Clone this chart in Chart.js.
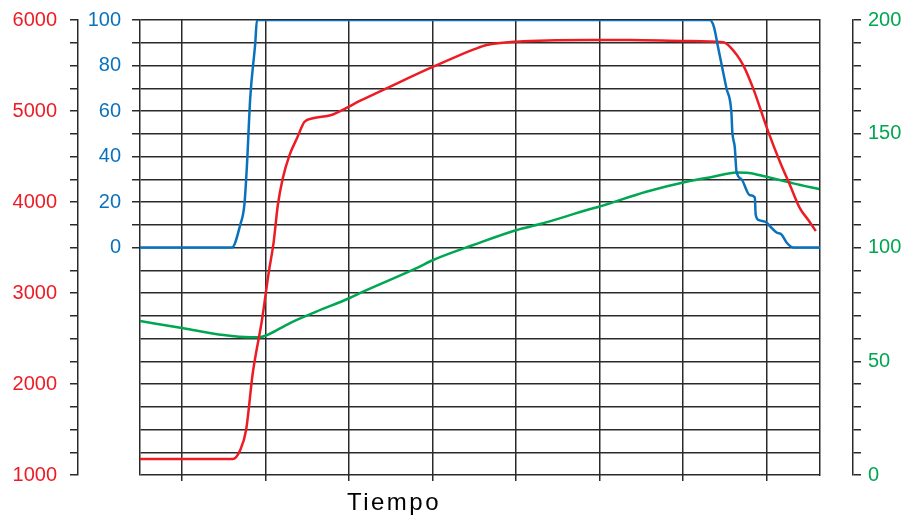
<!DOCTYPE html>
<html lang="es">
<head>
<meta charset="UTF-8">
<title>Tiempo</title>
<script src="https://cdn.jsdelivr.net/npm/chart.js@4.4.0/dist/chart.umd.min.js"></script>
<style>
  html, body { margin: 0; padding: 0; background: #fff; }
</style>
</head>
<body>
<canvas id="chart" width="906" height="515"></canvas>
<script>
// time axis (arbitrary units, grid every 10 starting at 5)
const timeTicks = [5, 15, 25, 35, 45, 55, 65, 75];

// blue series, 0-100 axis
const blueTime = [0, 11.0, 12.0, 12.5, 12.8, 13.2, 13.8, 14.0, 68.2, 68.7, 69.2, 70.2, 70.8, 70.9, 71.2, 71.4, 72.0, 73.0, 73.6, 73.7, 74.1, 75.0, 75.4, 76.2, 76.8, 77.4, 78.2, 81.4];
const blueValues = [0, 0, 10, 19, 36, 66, 90, 100, 100, 97, 88, 70, 59, 51, 44, 33.5, 30, 23, 22, 14.5, 12, 11, 9.4, 6.6, 5.7, 2.2, 0, 0];

// red series, 1000-6000 axis
const redTime = [0, 11.1, 12.0, 12.7, 13.5, 14.6, 15.4, 16.0, 16.5, 17.1, 17.9, 18.8, 19.7, 20.7, 22.9, 24.2, 26.3, 29.5, 35.1, 40.3, 41.5, 45.1, 53.8, 58.6, 65.4, 69.8, 70.6, 72.2, 73.4, 75.2, 76.6, 77.8, 79.0, 80.0, 80.9];
const redValues = [1175, 1175, 1275, 1494, 2121, 2703, 3220, 3560, 3967, 4264, 4516, 4703, 4882, 4920, 4956, 5010, 5110, 5249, 5487, 5689, 5725, 5762, 5780, 5780, 5769, 5755, 5707, 5505, 5249, 4773, 4443, 4187, 3930, 3802, 3681];

// green series, 0-200 axis
const greenTime = [0, 5.2, 10.0, 13.2, 14.2, 15.2, 17.9, 21.1, 25.1, 26.3, 33.1, 35.1, 39.9, 45.1, 47.9, 53.8, 55.0, 60.6, 65.4, 68.6, 71.4, 72.6, 75.0, 78.2, 81.3];
const greenValues = [67.7, 64.5, 61.5, 60.5, 60.5, 61.5, 66.7, 71.8, 77.8, 79.9, 90.9, 94.5, 101.1, 107.7, 110.3, 116.8, 118.0, 124.5, 128.9, 131.1, 133.0, 132.9, 131.1, 128.2, 125.7];

const xTitle = 'Tiempo';

const RED = '#ed1c24';
const BLUE = '#0a72bd';
const GREEN = '#00a651';
const GRID = '#2a2a2a';

function toPoints(xs, ys) {
    return xs.map((x, i) => ({ x: x, y: ys[i] }));
}

// fixed axis width, and no extra room for the end labels
function fixWidth(w) {
    return function(scale) {
        scale.width = w;
        scale.paddingTop = 0;
        scale.paddingBottom = 0;
    };
}

const tickFont = { family: '"Liberation Sans", Arial, sans-serif', size: 20 };

// draws the x-axis title a bit left of centre, like the original
const axisTitle = {
    id: 'axisTitle',
    afterDraw(chart) {
        const ctx = chart.ctx;
        const x = chart.scales.x;
        ctx.save();
        ctx.font = '24px "Liberation Sans", Arial, sans-serif';
        ctx.letterSpacing = '2.5px';
        ctx.fillStyle = '#000';
        ctx.textAlign = 'center';
        ctx.textBaseline = 'alphabetic';
        ctx.fillText(xTitle, x.getPixelForValue(30.4), x.bottom - 5);
        ctx.restore();
    }
};

new Chart(document.getElementById('chart'), {
    type: 'line',
    data: {
        datasets: [
            {
                label: 'azul',
                data: toPoints(blueTime, blueValues),
                yAxisID: 'yBlue',
                borderColor: BLUE,
                borderWidth: 2.5,
                pointRadius: 0,
                cubicInterpolationMode: 'monotone'
            },
            {
                label: 'rojo',
                data: toPoints(redTime, redValues),
                yAxisID: 'yRed',
                borderColor: RED,
                borderWidth: 2.5,
                pointRadius: 0,
                cubicInterpolationMode: 'monotone'
            },
            {
                label: 'verde',
                data: toPoints(greenTime, greenValues),
                yAxisID: 'yGreen',
                borderColor: GREEN,
                borderWidth: 2.5,
                pointRadius: 0,
                cubicInterpolationMode: 'monotone'
            }
        ]
    },
    options: {
        responsive: false,
        animation: false,
        layout: { padding: { top: 20, bottom: 0, left: 0, right: 0 } },
        plugins: {
            legend: { display: false },
            tooltip: { enabled: false }
        },
        scales: {
            x: {
                type: 'linear',
                min: 0,
                max: 81.4,
                afterBuildTicks: function(scale) {
                    scale.ticks = timeTicks.map(v => ({ value: v }));
                },
                afterFit: function(scale) {
                    scale.height = 40;
                    scale.paddingLeft = 0;
                    scale.paddingRight = 0;
                },
                ticks: { display: false },
                grid: { color: GRID, lineWidth: 1.5, tickLength: 6 },
                border: { display: false }
            },
            yBlue: {
                position: 'left',
                weight: 0,
                min: -100,
                max: 100,
                afterBuildTicks: function(scale) {
                    const t = [];
                    for (let v = 0; v <= 100; v += 10) t.push({ value: v });
                    scale.ticks = t;
                },
                afterFit: fixWidth(62),
                ticks: {
                    color: BLUE,
                    font: tickFont,
                    padding: 11,
                    autoSkip: false,
                    callback: v => (v % 20 === 0 ? v : '')
                },
                grid: { drawOnChartArea: false, color: GRID, lineWidth: 1.5, tickLength: 8 },
                border: { color: GRID, width: 1.5 }
            },
            yRed: {
                position: 'left',
                weight: 1,
                min: 1000,
                max: 6000,
                ticks: {
                    stepSize: 250,
                    color: RED,
                    font: tickFont,
                    padding: 13,
                    autoSkip: false,
                    callback: v => (v % 1000 === 0 ? v : '')
                },
                afterFit: fixWidth(78),
                grid: { color: GRID, lineWidth: 1.5, tickLength: 8 },
                border: { color: GRID, width: 1.5 }
            },
            frame: {
                position: 'right',
                weight: 0,
                min: 0,
                max: 1,
                afterBuildTicks: function(scale) { scale.ticks = []; },
                afterFit: fixWidth(33),
                ticks: { display: false },
                grid: { drawOnChartArea: false, drawTicks: false },
                border: { color: GRID, width: 1.5 }
            },
            yGreen: {
                position: 'right',
                weight: 1,
                min: 0,
                max: 200,
                ticks: {
                    stepSize: 10,
                    color: GREEN,
                    font: tickFont,
                    padding: 7,
                    autoSkip: false,
                    callback: v => (v % 50 === 0 ? v : '')
                },
                afterFit: fixWidth(53),
                grid: { drawOnChartArea: false, color: GRID, lineWidth: 1.5, tickLength: 8 },
                border: { color: GRID, width: 1.5 }
            }
        }
    },
    plugins: [axisTitle]
});
</script>
</body>
</html>
